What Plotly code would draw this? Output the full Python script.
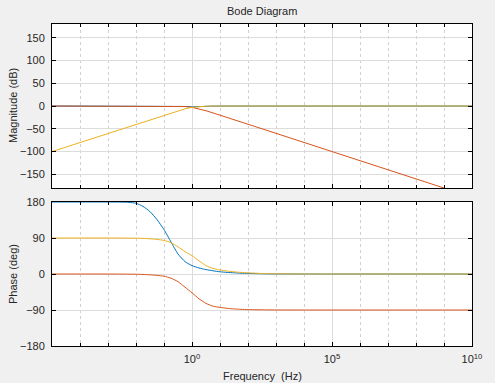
import plotly.graph_objects as go

# Frequency grid (Hz)
freq_hz = [1e-5, 1e-4, 1e-3,
           3.16e-3, 5.62e-3, 0.01, 0.0178, 0.0316, 0.0562, 0.1, 0.178, 0.316, 0.562,
           1.0, 1.78, 3.16, 5.62, 10.0, 17.8, 31.6, 56.2, 100.0,
           316.0, 1e3, 1e4, 1e5, 1e10]

# Magnitude (dB)
mag_blue = [0, 0, 0,
            0, 0, 0, 0, 0, 0, 0, -0.1, -0.3, -1.0,
            -2.0, -1.0, -0.3, -0.1, 0, 0, 0, 0, 0,
            0, 0, 0, 0, 0]
mag_red = [0, 0, 0,
           0, 0, 0, 0, -0.004, -0.014, -0.04, -0.12, -0.4, -1.2,
           -3.0, -6.2, -10.4, -15.2, -20, -25, -30, -35, -40,
           -50, -60, -80, -100, -200]
mag_yellow = [-100, -80, -60,
              -50, -45, -40, -35, -30, -25, -20, -15.2, -10.4, -6.2,
              -3.0, -1.2, -0.4, -0.12, -0.04, -0.01, 0, 0, 0,
              0, 0, 0, 0, 0]

# Phase (deg)
ph_blue = [180, 180, 180,
           179.7, 179, 177, 169, 156, 136, 111, 80, 50, 31,
           21, 15, 11, 8, 5.5, 4, 3, 2, 1.5,
           0.6, 0.2, 0, 0, 0]
ph_red = [0, 0, -0.1,
          -0.2, -0.4, -0.6, -1.2, -2, -3.5, -5.5, -10.5, -19, -33,
          -47, -62, -73.5, -80.5, -83.5, -85.8, -87.3, -88.3, -89,
          -89.6, -89.9, -90, -90, -90]
ph_yellow = [90, 90, 90,
             89.9, 89.7, 89.5, 89, 88, 86.5, 84, 78.5, 68, 56,
             46, 33, 21, 14, 10, 7.5, 5.5, 4, 3,
             1.2, 0.5, 0, 0, 0]

mag_ticks = [-150, -100, -50, 0, 50, 100, 150]
phase_ticks = [-180, -90, 0, 90, 180]
x_major = [1, 1e5, 1e10]
x_major_text = ["10<sup>0</sup>", "10<sup>5</sup>", "10<sup>10</sup>"]
x_minor = [1e-4, 1e-3, 1e-2, 1e-1, 1e1, 1e2, 1e3, 1e4, 1e6, 1e7, 1e8, 1e9]

BLUE = "#0072BD"
RED = "#D95319"
YELLOW = "#EDB120"
TXT = "#262626"
FONT = "Liberation Sans, Arial, sans-serif"

fig = go.Figure()
for y, c in [(mag_blue, BLUE), (mag_red, RED), (mag_yellow, YELLOW)]:
    fig.add_trace(go.Scatter(x=freq_hz, y=y, mode="lines", line=dict(color=c, width=1),
                             xaxis="x", yaxis="y", showlegend=False, hoverinfo="skip"))
for y, c in [(ph_blue, BLUE), (ph_red, RED), (ph_yellow, YELLOW)]:
    fig.add_trace(go.Scatter(x=freq_hz, y=y, mode="lines",
                             line=dict(color=c, width=1, shape="spline", smoothing=0.5),
                             xaxis="x2", yaxis="y2", showlegend=False, hoverinfo="skip"))

W, H = 495, 383
L, R, T, B = 52, 23, 24, 37
ph = H - T - B  # 322

grid_major = "#DCDCDC"
grid_minor = "#D0D0D0"

def xaxis_common(show_labels):
    return dict(
        type="log", range=[-5, 10],
        tickvals=x_major, ticktext=x_major_text, showticklabels=show_labels,
        ticks="inside", ticklen=4, tickcolor="black", tickwidth=1,
        showline=True, linecolor="black", linewidth=1, mirror="allticks",
        showgrid=True, gridcolor=grid_major, gridwidth=1,
        zeroline=False,
        minor=dict(tickvals=x_minor, ticks="inside", ticklen=3, tickcolor="black",
                   showgrid=True, gridcolor=grid_minor, griddash="3px,3px", gridwidth=1),
        tickfont=dict(family=FONT, size=11, color=TXT), ticklabelstandoff=3,
    )

def yaxis_common(rng, ticks):
    return dict(
        range=rng, tickvals=ticks, ticks="inside", ticklen=4, tickcolor="black",
        showline=True, linecolor="black", linewidth=1, mirror="allticks",
        showgrid=True, gridcolor=grid_major, gridwidth=1, zeroline=False,
        tickfont=dict(family=FONT, size=11, color=TXT), ticklabelstandoff=4,
    )

top_lo = (346 - 188) / ph
bot_hi = (346 - 202) / ph

fig.update_layout(
    width=W, height=H,
    margin=dict(l=L, r=R, t=T, b=B),
    paper_bgcolor="#F0F0F0", plot_bgcolor="white",
    font=dict(family=FONT, size=11, color=TXT),
    xaxis=dict(xaxis_common(False), anchor="y", domain=[0, 1]),
    yaxis=dict(yaxis_common([-180, 180], mag_ticks), domain=[top_lo, 1], anchor="x"),
    xaxis2=dict(xaxis_common(True), anchor="y2", domain=[0, 1], matches="x"),
    yaxis2=dict(yaxis_common([-180, 180], phase_ticks), domain=[0, bot_hi], anchor="x2"),
    annotations=[
        dict(text="Bode Diagram", xref="paper", yref="paper",
             x=0.5, y=(346 - 11.5) / ph,
             showarrow=False, xanchor="center", yanchor="middle",
             font=dict(family=FONT, size=11, color=TXT)),
        dict(text="Magnitude (dB)", xref="paper", yref="paper",
             x=(13 - L) / 420, y=(346 - 106) / ph, textangle=-90,
             showarrow=False, xanchor="center", yanchor="middle",
             font=dict(family=FONT, size=11, color=TXT)),
        dict(text="Phase (deg)", xref="paper", yref="paper",
             x=(13 - L) / 420, y=(346 - 274) / ph, textangle=-90,
             showarrow=False, xanchor="center", yanchor="middle",
             font=dict(family=FONT, size=11, color=TXT)),
        dict(text="Frequency  (Hz)", xref="paper", yref="paper",
             x=0.5, y=(346 - 376) / ph,
             showarrow=False, xanchor="center", yanchor="middle",
             font=dict(family=FONT, size=11, color=TXT)),
    ],
)

fig.write_html("out.html", config={"displayModeBar": False})
with open("out.html", "r", encoding="utf-8") as fh:
    html = fh.read()
html = html.replace("<head>", "<head><style>html,body{margin:0;padding:0;background:#F0F0F0;overflow:hidden}</style>", 1)
with open("out.html", "w", encoding="utf-8") as fh:
    fh.write(html)
